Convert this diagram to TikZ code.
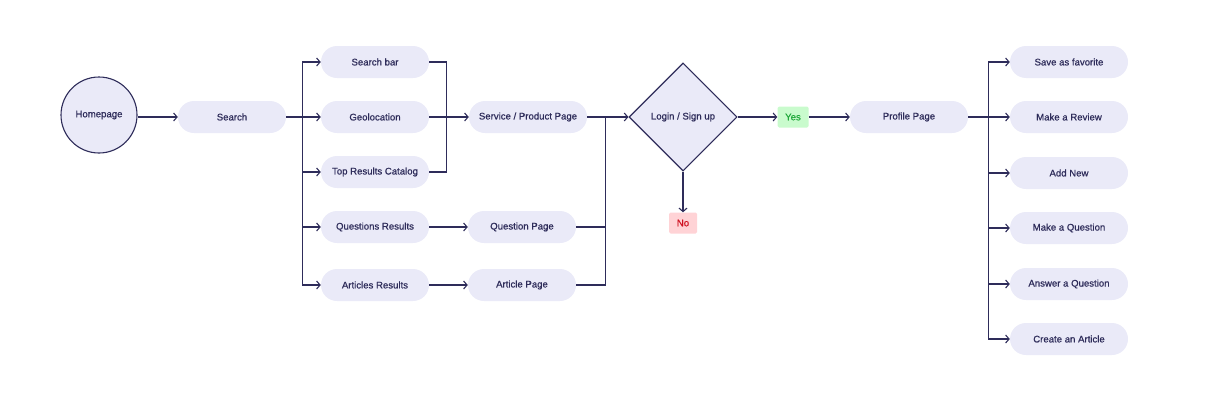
\documentclass[tikz,border=0pt]{standalone}
\usepackage{fontspec}
\setmainfont{Liberation Sans}[RawFeature={embolden=0.7}]
\usetikzlibrary{shapes.geometric, arrows.meta, positioning}

\definecolor{ink}{HTML}{2E2C5A}
\definecolor{lilac}{HTML}{EAEAF8}
\definecolor{yesfill}{HTML}{C9FBCD}
\definecolor{yesink}{HTML}{1FA83A}
\definecolor{nofill}{HTML}{FFD3D6}
\definecolor{noink}{HTML}{CF1020}

\begin{document}
\begin{tikzpicture}[
      x=1pt, y=-1pt,
      font=\fontsize{9.6}{11}\selectfont,
      >={Straight Barb[length=3.5pt,width=8pt]},
      link/.style     = {draw=ink, line width=1.1pt},
      line/.style     = {link, ->},
      pill/.style     = {rectangle, fill=lilac, text=ink, rounded corners=16pt,
        minimum width=108pt, minimum height=32pt, inner sep=0pt},
      widepill/.style = {pill, minimum width=118pt},
      start/.style    = {circle, draw=ink, line width=1.1pt, fill=lilac,
        text=ink, minimum size=76pt, inner sep=0pt},
      decision/.style = {diamond, draw=ink, line width=1.1pt, fill=lilac,
        text=ink, aspect=1, minimum size=108pt, inner sep=0pt},
      tag/.style      = {rectangle, rounded corners=1.5pt, minimum height=21pt,
        inner sep=0pt}
    ]
    \useasboundingbox (0,0) rectangle (1231,402);

    % ---------------- entry ----------------
    \node[start]           (home)   at (99,115)  {Homepage};
    \node[pill]            (search) at (232,117) {Search};

    % ---------------- search results ----------------
    \node[pill]            (sbar)   at (375,62)  {Search bar};
    \node[pill]            (geo)    at (375,117) {Geolocation};
    \node[pill]            (top)    at (375,172) {Top Results Catalog};
    \node[pill]            (qres)   at (375,227) {Questions Results};
    \node[pill]            (ares)   at (375,285) {Articles Results};

    % ---------------- pages ----------------
    \node[widepill]        (service) at (528,117) {Service / Product Page};
    \node[pill]            (qpage)   at (522,227) {Question Page};
    \node[pill]            (apage)   at (522,285) {Article Page};

    % ---------------- login ----------------
    \node[decision]        (login)  at (683,117) {Login / Sign up};
    \node[tag, fill=yesfill, text=yesink, minimum width=31pt]
                           (yes)    at (793,117) {Yes};
    \node[tag, fill=nofill, text=noink, minimum width=28pt]
                           (no)     at (683,223) {No};

    % ---------------- profile ----------------
    \node[widepill]        (profile) at (909,117) {Profile Page};
    \node[widepill]        (fav)     at (1069,62)  {Save as favorite};
    \node[widepill]        (review)  at (1069,117) {Make a Review};
    \node[widepill]        (addnew)  at (1069,173) {Add New};
    \node[widepill]        (askq)    at (1069,228) {Make a Question};
    \node[widepill]        (answerq) at (1069,284) {Answer a Question};
    \node[widepill]        (article) at (1069,339) {Create an Article};

    % ---------------- junctions ----------------
    \coordinate[right=16pt of search.east]  (split1);
    \coordinate[right=17pt of geo.east]     (merge1);
    \coordinate[right=18pt of service.east] (merge2);
    \coordinate[right=20pt of profile.east] (split2);

    % ---------------- arrows (main flow) -------------
    \draw[line] (home.east |- search.west) -- (search.west);
    \foreach \t in {sbar,geo,top,qres,ares}
    \draw[line] (search.east) -- (split1) |- (\t.west);

    \draw[link] (sbar.east) -| (merge1);
    \draw[link] (top.east)  -| (merge1);
    \draw[line] (geo.east) -- (service.west);
    \draw[line] (qres) -- (qpage);
    \draw[line] (ares) -- (apage);

    \draw[link] (qpage.east) -| (merge2);
    \draw[link] (apage.east) -| (merge2);
    \draw[line] (service.east) -- (login.west);

    \draw[line] (login.east) -- (yes.west);
    \draw[line] (login.south) -- (no.north);
    \draw[line] (yes.east) -- (profile.west);

    % ---------------- arrows (profile actions) ------------
    \foreach \t in {fav,review,addnew,askq,answerq,article}
    \draw[line] (profile.east) -- (split2) |- (\t.west);

  \end{tikzpicture}
\end{document}
